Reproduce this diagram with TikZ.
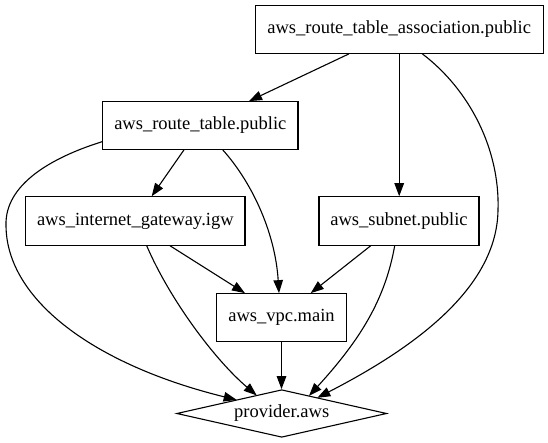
\documentclass[tikz,border=0pt]{standalone}
\usepackage{fontspec}
\setmainfont{Liberation Serif}
\usetikzlibrary{arrows.meta,shapes.geometric}
\tikzset{
  gbox/.style={draw, rectangle, line width=1.1pt, inner sep=0pt, minimum height=47.6pt, font=\fontsize{18.5}{22}\selectfont},
  gdiam/.style={draw, diamond, line width=1.1pt, inner sep=0pt, minimum width=210pt, minimum height=47.6pt},
  glabel/.style={inner sep=0pt, font=\fontsize{18.5}{22}\selectfont},
  garrow/.style={line width=1.1pt, -{Triangle[length=13pt,width=9.5pt]}}
}
\begin{document}
\begin{tikzpicture}[x=1pt,y=-1pt]
\useasboundingbox (0,0) rectangle (548,443);
\fill[white] (0,0) rectangle (548,443);
\node[gbox, minimum width=288.3pt] (rta) at (399.2,29.5) {aws\_route\_table\_association.public};
\node[gbox, minimum width=195.3pt] (rt) at (200.3,125.5) {aws\_route\_table.public};
\node[gbox, minimum width=219.3pt, minimum height=48.4pt] (igw) at (135.3,221) {aws\_internet\_gateway.igw};
\node[gbox, minimum width=160pt, minimum height=48.4pt] (subnet) at (399,221) {aws\_subnet.public};
\node[gbox, minimum width=129.6pt] (vpc) at (281.5,317.5) {aws\_vpc.main};
\node[gdiam] (prov) at (281.7,413.5) {};
\node[glabel] (provtext) at (prov.center) {provider.aws};

\draw[garrow] ([shift={(-50.2,0)}]rta.south) -- ([shift={(48.7,0)}]rt.north);
\draw[garrow] (rta.south) -- (rta.south |- subnet.north);
\draw[garrow] ([shift={(23.1,0)}]rta.south) .. controls (470,90) and (500,150) .. (498,210)
   .. controls (497,290) and (410,350) .. ([shift={(35.6,-15.7)}]prov.center);
\draw[garrow] ([shift={(-16.3,0)}]rt.south) -- ([shift={(16.4,0)}]igw.north);
\draw[garrow] ([shift={(22.4,0)}]rt.south) .. controls (250,180) and (275,230) .. ([shift={(-2.5,0)}]vpc.north);
\draw[garrow] ([shift={(0,16.2)}]rt.west) .. controls (50,158) and (5,185) .. (6,225)
   .. controls (6,300) and (95,365) .. ([shift={(-45,-13.6)}]prov.center);
\draw[garrow] ([shift={(34.7,0)}]igw.south) -- ([shift={(-36.5,0)}]vpc.north);
\draw[garrow] ([shift={(11.4,0)}]igw.south) .. controls (170,300) and (215,360) .. ([shift={(-25,-18.1)}]prov.center);
\draw[garrow] ([shift={(-28.3,0)}]subnet.south) -- ([shift={(29.2,0)}]vpc.north);
\draw[garrow] ([shift={(-4.3,0)}]subnet.south) .. controls (385,300) and (360,340) .. ([shift={(27.3,-17.6)}]prov.center);
\draw[garrow] (vpc.south) -- (vpc.south |- prov.north);
\end{tikzpicture}
\end{document}
